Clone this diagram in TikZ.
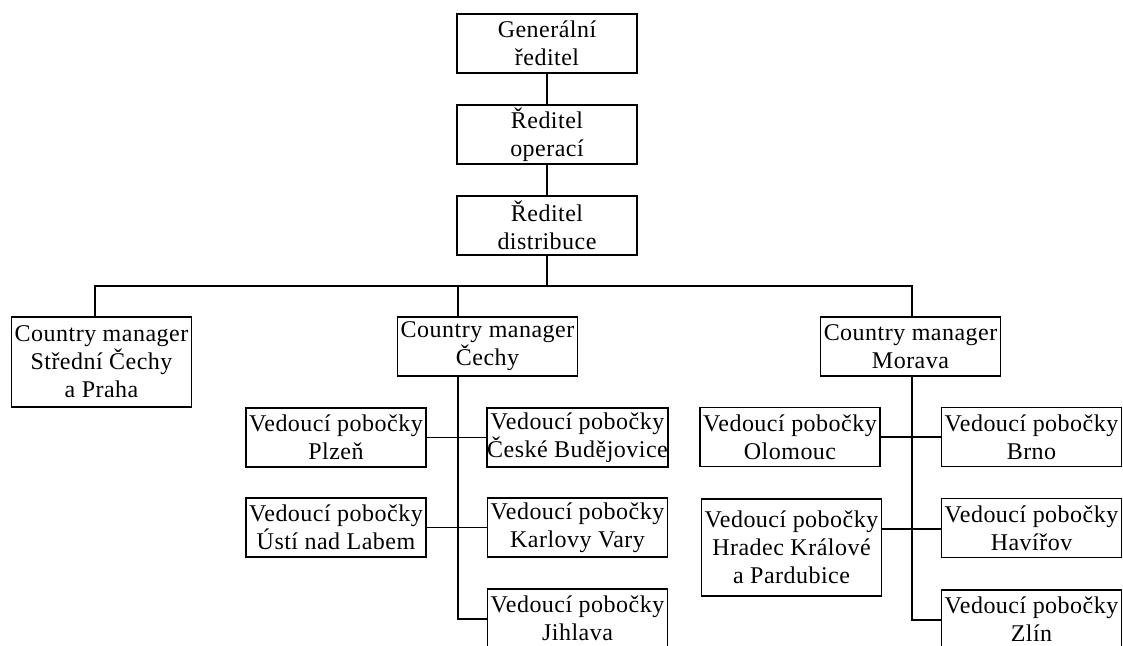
\documentclass[tikz,border=0pt]{standalone}
\usepackage{fontspec}
\setmainfont[LetterSpace=2]{Liberation Serif}
\usetikzlibrary{positioning}

\begin{document}
\begin{tikzpicture}[x=1pt,y=-1pt,
        font=\fontsize{24}{28}\selectfont,
        line width=1.8pt,
        boxNode/.style = {draw=black,line width=1.8pt,align=center,inner sep=0pt,minimum width=180pt,minimum height=59pt},
        tallNode/.style = {boxNode,minimum height=90pt},
        leafNode/.style = {boxNode,minimum height=97pt}
        ]
        \useasboundingbox (0,0) rectangle (1123,645);
        % top of the chart
        \node[boxNode] (gen) at (547,43.5) {Generální\\ředitel};
        \node[boxNode] (ops) at (547,134.5) {Ředitel\\operací};
        \node[boxNode] (dist) at (547,225.5) {Ředitel\\distribuce};
        % country managers
        \node[tallNode] (scp) at (101.5,362) {Country manager\\Střední Čechy\\a Praha};
        \node[boxNode] (cech) at (487.5,346.5) {Country manager\\Čechy};
        \node[boxNode] (mor) at (910.5,346.5) {Country manager\\Morava};
        % branches under Cechy
        \node[boxNode] (plz) at (336,437.5) {Vedoucí pobočky\\Plzeň};
        \node[boxNode] (cbu) at (577.5,437.5) {Vedoucí pobočky\\České Budějovice};
        \node[boxNode] (ust) at (336,527.5) {Vedoucí pobočky\\Ústí nad Labem};
        \node[boxNode] (kv) at (577.5,527.5) {Vedoucí pobočky\\Karlovy Vary};
        \node[boxNode] (jih) at (577.5,618.5) {Vedoucí pobočky\\Jihlava};
        % branches under Morava
        \node[boxNode] (olo) at (790,437) {Vedoucí pobočky\\Olomouc};
        \node[boxNode] (brno) at (1031.5,437) {Vedoucí pobočky\\Brno};
        \node[leafNode] (hk) at (791.5,547.5) {Vedoucí pobočky\\Hradec Králové\\a Pardubice};
        \node[boxNode] (hav) at (1031.5,528) {Vedoucí pobočky\\Havířov};
        \node[boxNode] (zlin) at (1031.5,619.5) {Vedoucí pobočky\\Zlín};

        \coordinate (busL) at (95,286);
        \coordinate (busC) at (458,286);
        \coordinate (busR) at (912,286);
        \coordinate (cechEnd) at (458,619);
        \coordinate (morEnd) at (912,620);
        \coordinate (morMid) at (912,529);

        \draw (gen) -- (ops);
        \draw (ops) -- (dist);
        \draw (dist.south) -- (dist.south |- busL);
        \draw (busL |- scp.north) -- (busL) -- (busR) -- (busR |- mor.north);
        \draw (busC) -- (busC |- cech.north);
        % Cechy trunk
        \draw (cechEnd |- cech.south) -- (cechEnd) -- (jih.west |- cechEnd);
        \draw (plz.east) -- (cbu.west);
        \draw (ust.east) -- (kv.west);
        % Morava trunk
        \draw (morEnd |- mor.south) -- (morEnd) -- (zlin.west |- morEnd);
        \draw (olo.east) -- (brno.west);
        \draw (hk.east |- morMid) -- (hav.west |- morMid);
    \end{tikzpicture}
\end{document}
